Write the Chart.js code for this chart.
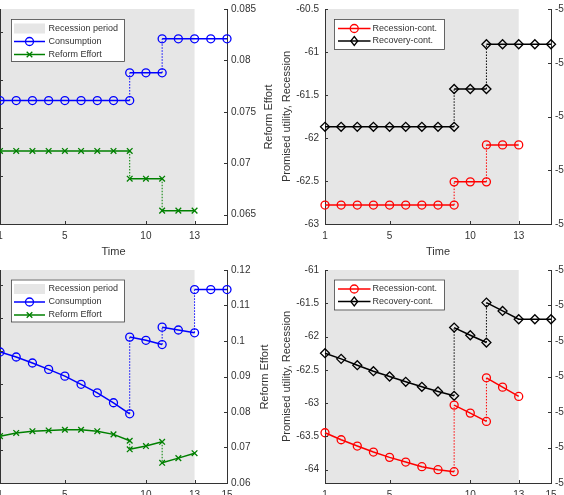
<!DOCTYPE html>
<html>
<head>
<meta charset="utf-8">
<script src="https://cdn.jsdelivr.net/npm/chart.js@4.4.1/dist/chart.umd.min.js"></script>
<style>
  html, body { margin: 0; padding: 0; background: #fff; overflow: hidden; }
  body { width: 564px; height: 495px; position: relative; }
  canvas { position: absolute; }
  .ylab { position: absolute; font: 11px "Liberation Sans", Arial, sans-serif; color: #333;
          white-space: nowrap; transform: translate(-50%, -50%) rotate(-90deg); }
</style>
</head>
<body>
<canvas id="tl" width="282" height="262" style="left:0;top:0"></canvas>
<canvas id="tr" width="300" height="262" style="left:280px;top:0"></canvas>
<canvas id="bl" width="282" height="260" style="left:0;top:260px"></canvas>
<canvas id="br" width="300" height="260" style="left:280px;top:260px"></canvas>
<div class="ylab" style="left:268px;top:117px">Reform Effort</div>
<div class="ylab" style="left:264px;top:377px">Reform Effort</div>
<script>
// time runs 1..15, the path jumps at these periods
const segmentStarts = [1, 9, 11, 13];
const recessionPeriod = [1, 13];
const topTimeTicks = [1, 5, 10, 13];
const bottomTimeTicks = [1, 5, 10, 13, 15];

// top row: constant paths
const topConsumption = [
    [0.0761, 0.0761, 0.0761, 0.0761, 0.0761, 0.0761, 0.0761, 0.0761, 0.0761],
    [0.0788, 0.0788, 0.0788],
    [0.0821, 0.0821, 0.0821, 0.0821, 0.0821]
];
const topEffort = [
    [0.0712, 0.0712, 0.0712, 0.0712, 0.0712, 0.0712, 0.0712, 0.0712, 0.0712],
    [0.0685, 0.0685, 0.0685],
    [0.0654, 0.0654, 0.0654]
];
const topRecession = [
    [-62.78, -62.78, -62.78, -62.78, -62.78, -62.78, -62.78, -62.78, -62.78],
    [-62.51, -62.51, -62.51],
    [-62.08, -62.08, -62.08]
];
const topRecovery = [
    [-61.87, -61.87, -61.87, -61.87, -61.87, -61.87, -61.87, -61.87, -61.87],
    [-61.43, -61.43, -61.43],
    [-60.91, -60.91, -60.91, -60.91, -60.91]
];

// bottom row: time-varying paths
const bottomConsumption = [
    [0.0969, 0.0955, 0.0938, 0.0920, 0.0901, 0.0878, 0.0854, 0.0826, 0.0795],
    [0.1011, 0.1002, 0.0990],
    [0.1039, 0.1031, 0.1023],
    [0.1145, 0.1145, 0.1145]
];
const bottomEffort = [
    [0.0732, 0.0741, 0.0746, 0.0748, 0.0750, 0.0750, 0.0746, 0.0737, 0.0719],
    [0.0695, 0.0704, 0.0716],
    [0.0657, 0.0670, 0.0684]
];
const bottomRecession = [
    [-63.445, -63.55, -63.645, -63.735, -63.815, -63.885, -63.955, -64.0, -64.03],
    [-63.03, -63.15, -63.275],
    [-62.62, -62.76, -62.90]
];
const bottomRecovery = [
    [-62.25, -62.335, -62.43, -62.52, -62.6, -62.68, -62.755, -62.825, -62.89],
    [-61.865, -61.98, -62.09],
    [-61.49, -61.615, -61.74, -61.74, -61.74]
];

// tick values (left axis of left panels and right axis of right panels are cropped)
const topHiddenTicks = [0, 1, 2, 3, 4];
const bottomHiddenTicks = [0, 1, 2, 3, 4, 5, 6];
const topEffortTicks = [0.065, 0.07, 0.075, 0.08, 0.085];
const bottomEffortTicks = [0.06, 0.07, 0.08, 0.09, 0.1, 0.11, 0.12];
const topUtilityTicks = [-63, -62.5, -62, -61.5, -61, -60.5];
const bottomUtilityTicks = [-64, -63.5, -63, -62.5, -62, -61.5, -61];
const topRecoveryTicks = [-59, -58.5, -58, -57.5, -57];
const bottomRecoveryTicks = [-59, -58.5, -58, -57.5, -57, -56.5, -56];

const AXIS = '#333';
const FONT = '"Liberation Sans", Arial, sans-serif';
Chart.defaults.font.family = FONT;

function toPoints(segs) {
    const pts = [];
    segs.forEach((seg, i) => {
        if (i > 0) pts.push({ x: segmentStarts[i], y: null });
        seg.forEach((v, j) => pts.push({ x: segmentStarts[i] + j, y: v }));
    });
    return pts;
}

function jumps(segs) {
    const pts = [];
    for (let i = 1; i < segs.length; i++) {
        if (i > 1) pts.push({ x: segmentStarts[i], y: null });
        pts.push({ x: segmentStarts[i], y: segs[i - 1][segs[i - 1].length - 1] });
        pts.push({ x: segmentStarts[i], y: segs[i][0] });
    }
    return pts;
}

function series(segs, color, style, axis) {
    return [
        {
            data: toPoints(segs), yAxisID: axis, borderColor: color, borderWidth: 1.5,
            pointStyle: style, pointRadius: style === 'rectRot' ? 4.5 : 4, pointBorderColor: color,
            pointBackgroundColor: 'rgba(0,0,0,0)', pointBorderWidth: 1.3, clip: false, spanGaps: false
        },
        {
            data: jumps(segs), yAxisID: axis, borderColor: color, borderWidth: 1,
            borderDash: [1.5, 1.5], pointRadius: 0, clip: false, spanGaps: false
        }
    ];
}

function marker(ctx, style, x, y) {
    ctx.beginPath();
    if (style === 'circle') {
        ctx.arc(x, y, 4, 0, Math.PI * 2);
    } else if (style === 'crossRot') {
        ctx.moveTo(x - 2.8, y - 2.8); ctx.lineTo(x + 2.8, y + 2.8);
        ctx.moveTo(x + 2.8, y - 2.8); ctx.lineTo(x - 2.8, y + 2.8);
    } else {
        ctx.moveTo(x, y - 4.5); ctx.lineTo(x + 3.5, y); ctx.lineTo(x, y + 4.5); ctx.lineTo(x - 3.5, y);
        ctx.closePath();
    }
    ctx.stroke();
}

const recessionShade = {
    id: 'recessionShade',
    beforeDraw(chart) {
        const { ctx, chartArea, scales: { x } } = chart;
        const x0 = x.getPixelForValue(recessionPeriod[0]);
        const x1 = x.getPixelForValue(recessionPeriod[1]);
        ctx.save();
        ctx.fillStyle = '#e6e6e6';
        ctx.fillRect(x0, chartArea.top, x1 - x0, chartArea.bottom - chartArea.top);
        ctx.restore();
    }
};

// matlab style ticks pointing into the plot
const inwardTicks = {
    id: 'inwardTicks',
    afterDraw(chart) {
        const { ctx, chartArea } = chart;
        ctx.save();
        ctx.strokeStyle = AXIS;
        ctx.lineWidth = 1;
        Object.values(chart.scales).forEach(s => {
            s.ticks.forEach(t => {
                const p = Math.round(s.getPixelForValue(t.value)) + 0.5;
                ctx.beginPath();
                if (s.axis === 'x') {
                    ctx.moveTo(p, chartArea.bottom); ctx.lineTo(p, chartArea.bottom - 3);
                } else if (s.position === 'left') {
                    ctx.moveTo(chartArea.left, p); ctx.lineTo(chartArea.left + 3, p);
                } else {
                    ctx.moveTo(chartArea.right, p); ctx.lineTo(chartArea.right - 3, p);
                }
                ctx.stroke();
            });
        });
        ctx.restore();
    }
};

const boxLegend = {
    id: 'boxLegend',
    afterDraw(chart, args, o) {
        if (!o.items) return;
        const { ctx, chartArea } = chart;
        const x = chartArea.left + o.x, y = chartArea.top + o.y;
        ctx.save();
        ctx.fillStyle = '#fff';
        ctx.fillRect(x, y, o.w, o.h);
        ctx.strokeStyle = '#444';
        ctx.lineWidth = 0.8;
        ctx.strokeRect(x + 0.5, y + 0.5, o.w, o.h);
        ctx.font = '9px ' + FONT;
        ctx.textBaseline = 'middle';
        o.items.forEach((it, i) => {
            const cy = y + 9.5 + i * o.gap;
            if (it.patch) {
                ctx.fillStyle = it.patch;
                ctx.fillRect(x + o.l0, cy - 5, o.l1 - o.l0, 10);
            } else {
                ctx.strokeStyle = it.color;
                ctx.lineWidth = 1.5;
                ctx.beginPath();
                ctx.moveTo(x + o.l0, cy); ctx.lineTo(x + o.l1, cy);
                ctx.stroke();
                ctx.lineWidth = 1.3;
                marker(ctx, it.style, x + (o.l0 + o.l1) / 2, cy);
            }
            ctx.fillStyle = '#333';
            ctx.fillText(it.label, x + o.tx, cy);
        });
        ctx.restore();
    }
};

function yAxis(pos, min, max, tickList, width, showLabels, title) {
    return {
        type: 'linear', position: pos, min, max, bounds: 'data',
        grid: { display: false, drawTicks: false },
        border: { display: true, color: AXIS, width: 1 },
        ticks: {
            display: showLabels, color: AXIS, font: { size: 10 }, padding: pos === 'left' ? 6 : 4,
            callback: v => String(+v.toFixed(4))
        },
        title: { display: !!title, text: title || '', color: AXIS, font: { size: 11 }, padding: 0 },
        afterBuildTicks: s => { s.ticks = tickList.map(v => ({ value: v })); },
        afterFit: s => { s.width = width; s.paddingTop = 0; s.paddingBottom = 0; }
    };
}

function panel(id, p) {
    new Chart(document.getElementById(id), {
        type: 'line',
        data: { datasets: p.datasets },
        options: {
            responsive: false,
            animation: false,
            events: [],
            layout: { autoPadding: false, padding: { top: p.top, left: 0, right: 0, bottom: 0 } },
            plugins: { legend: { display: false }, tooltip: { enabled: false }, boxLegend: p.legend },
            scales: {
                x: {
                    type: 'linear', position: 'bottom', min: 1, max: 15, bounds: 'data',
                    grid: { display: false, drawTicks: false },
                    border: { display: true, color: AXIS, width: 1 },
                    ticks: { color: AXIS, font: { size: 10 }, padding: 6, autoSkip: false, maxRotation: 0 },
                    title: { display: true, text: 'Time', color: AXIS, font: { size: 11 }, padding: { top: 0, bottom: 3 } },
                    afterBuildTicks: s => { s.ticks = p.xTicks.map(v => ({ value: v })); },
                    afterFit: s => { s.height = p.xHeight; s.paddingLeft = 0; s.paddingRight = 0; }
                },
                y: p.y,
                y1: p.y1
            }
        },
        plugins: [recessionShade, inwardTicks, boxLegend]
    });
}

const consumptionLegend = (top) => ({
    x: 11, y: top, w: 113, h: 42, gap: 13, l0: 3, l1: 34, tx: 37.5,
    items: [
        { patch: '#e6e6e6', label: 'Recession period' },
        { color: '#0000ff', style: 'circle', label: 'Consumption' },
        { color: '#008000', style: 'crossRot', label: 'Reform Effort' }
    ]
});
const utilityLegend = (top) => ({
    x: 9, y: top, w: 110, h: 30, gap: 12.5, l0: 4, l1: 36.5, tx: 38.5,
    items: [
        { color: '#ff0000', style: 'circle', label: 'Recession-cont.' },
        { color: '#000000', style: 'rectRot', label: 'Recovery-cont.' }
    ]
});

panel('tl', {
    top: 9, xHeight: 38, xTicks: topTimeTicks,
    datasets: [
        ...series(topConsumption, '#0000ff', 'circle', 'y1'),
        ...series(topEffort, '#008000', 'crossRot', 'y1')
    ],
    y: yAxis('left', 0, 4.47, topHiddenTicks, 0, false),
    y1: yAxis('right', 0.0641, 0.085, topEffortTicks, 55, true),
    legend: consumptionLegend(10)
});

panel('tr', {
    top: 9, xHeight: 38, xTicks: topTimeTicks,
    datasets: [
        ...series(topRecession, '#ff0000', 'circle', 'y'),
        ...series(topRecovery, '#000000', 'rectRot', 'y')
    ],
    y: yAxis('left', -63, -60.5, topUtilityTicks, 45, true, 'Promised utility, Recession'),
    y1: yAxis('right', -59, -57, topRecoveryTicks, 29, true),
    legend: utilityLegend(10)
});

panel('bl', {
    top: 10, xHeight: 37, xTicks: bottomTimeTicks,
    datasets: [
        ...series(bottomConsumption, '#0000ff', 'circle', 'y1'),
        ...series(bottomEffort, '#008000', 'crossRot', 'y1')
    ],
    y: yAxis('left', 0, 6.45, bottomHiddenTicks, 0, false),
    y1: yAxis('right', 0.06, 0.12, bottomEffortTicks, 55, true),
    legend: consumptionLegend(9.5)
});

panel('br', {
    top: 10, xHeight: 37, xTicks: bottomTimeTicks,
    datasets: [
        ...series(bottomRecession, '#ff0000', 'circle', 'y'),
        ...series(bottomRecovery, '#000000', 'rectRot', 'y')
    ],
    y: yAxis('left', -64.2, -61, bottomUtilityTicks, 45, true, 'Promised utility, Recession'),
    y1: yAxis('right', -59, -56, bottomRecoveryTicks, 29, true),
    legend: utilityLegend(9.5)
});
</script>
</body>
</html>
